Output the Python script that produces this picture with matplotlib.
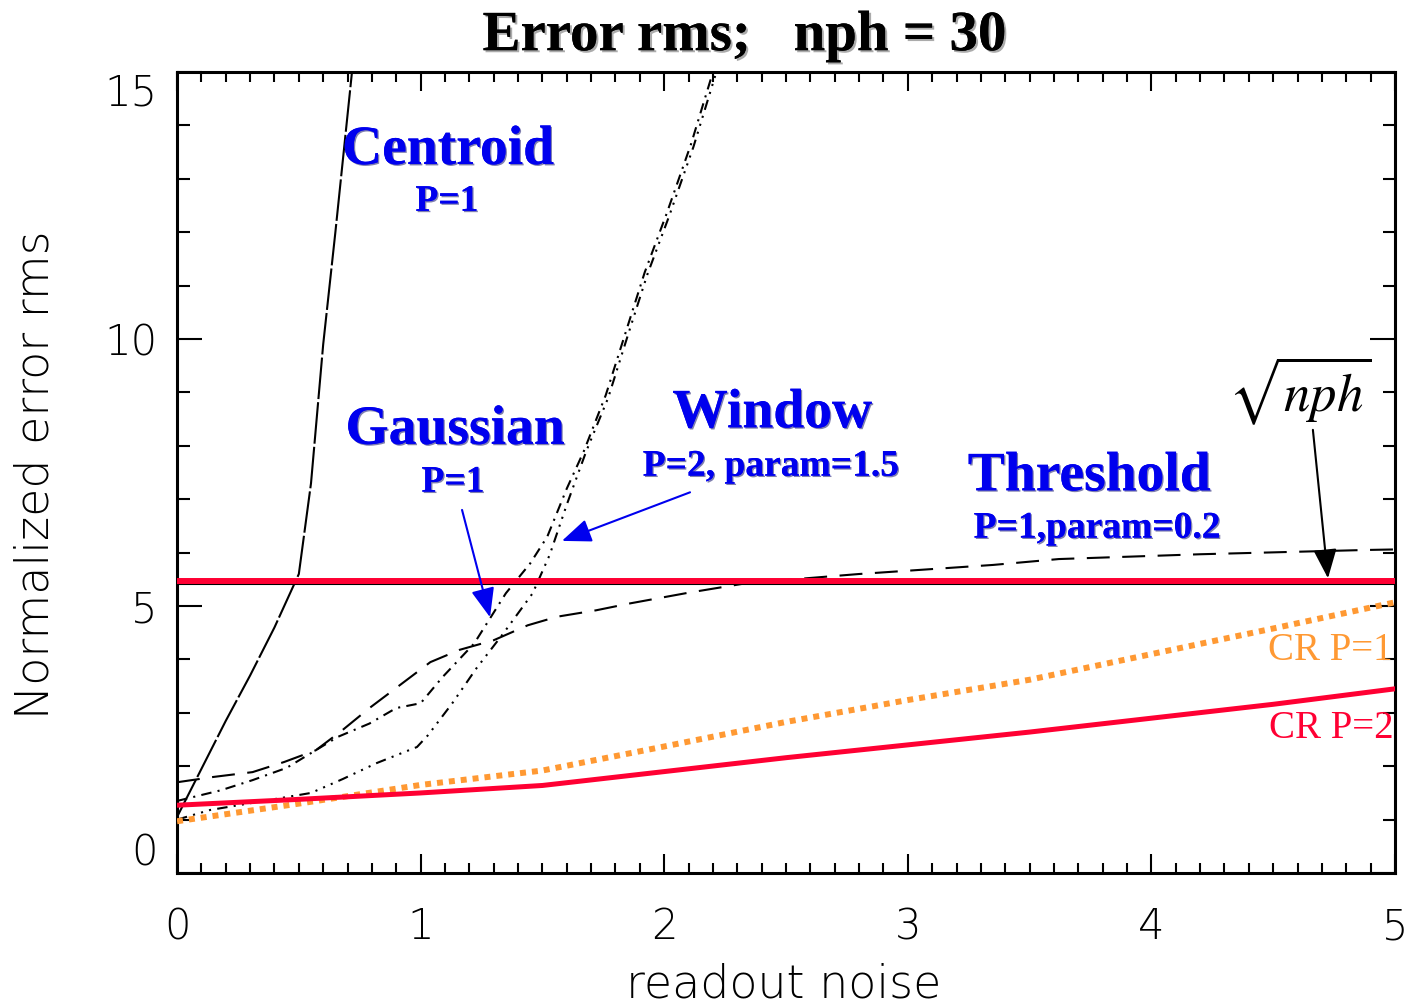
# Error rms vs readout noise, nph = 30

import os
import numpy as np
import matplotlib
matplotlib.use("Agg")
import matplotlib.pyplot as plt
import matplotlib.patheffects as pe
import matplotlib.transforms as mtrans
from matplotlib import font_manager as fm
from matplotlib.ticker import MultipleLocator

# data
nph = 30

centroid_x = [0.0, 0.1, 0.2, 0.3, 0.4, 0.5, 0.55, 0.6, 0.65, 0.7, 0.75]
centroid_y = [1.05, 1.95, 2.85, 3.7, 4.6, 5.6, 7.3, 9.9, 12.0, 14.2, 16.4]

gauss_x = [0.0, 0.18, 0.31, 0.45, 0.66, 0.79, 0.9, 1.0, 1.09, 1.22, 1.35, 1.45,
           1.52, 1.6, 1.67, 1.76, 1.84, 1.92, 2.01, 2.11, 2.2, 2.25]
gauss_y = [1.35, 1.55, 1.74, 1.97, 2.55, 2.8, 3.09, 3.18, 3.67, 4.3, 5.24, 5.8,
           6.3, 7.2, 7.9, 8.95, 10.1, 11.25, 12.35, 13.65, 15.0, 15.7]

window_x = [0.0, 0.135, 0.55, 0.68, 0.82, 0.985, 1.03, 1.13, 1.23, 1.34, 1.46,
            1.53, 1.6, 1.68, 1.77, 1.85, 1.93, 2.02, 2.12, 2.21, 2.26]
window_y = [1.0, 1.18, 1.5, 1.76, 2.06, 2.36, 2.58, 3.18, 3.84, 4.49, 5.24,
            5.96, 6.9, 7.9, 8.9, 10.06, 11.2, 12.3, 13.6, 14.94, 15.6]

thresh_x = [0.0, 0.15, 0.31, 0.44, 0.57, 0.68, 0.79, 0.915, 1.04, 1.16, 1.3,
            1.44, 1.56, 1.72, 1.86, 2.1, 2.34, 2.8, 3.35, 3.62, 4.2, 4.88, 5.0]
thresh_y = [1.7, 1.8, 1.89, 2.08, 2.3, 2.68, 3.09, 3.52, 3.95, 4.18, 4.36,
            4.64, 4.8, 4.92, 5.05, 5.25, 5.43, 5.6, 5.77, 5.88, 5.97, 6.05, 6.06]

cr_x = [0.0, 0.5, 1.0, 1.5, 2.0, 2.5, 3.0, 3.5, 4.0, 4.5, 5.0]
cr1_y = [0.97, 1.3, 1.65, 1.92, 2.37, 2.83, 3.24, 3.62, 4.1, 4.58, 5.07]
cr2_y = [1.27, 1.38, 1.5, 1.64, 1.9, 2.16, 2.4, 2.64, 2.9, 3.16, 3.45]

x_ticks = [0, 1, 2, 3, 4, 5]
y_ticks = [0, 5, 10, 15]

# colours
BLUE = "#0000ee"
RED = "#ff0033"
ORANGE = "#ff9933"

# thin sans font for the axis text (like the IDL vector font)
light_font = None
for want in ["DejaVuSans-ExtraLight", "Lato-Light", "Roboto-Light", "OpenSans-Light"]:
    for f in fm.fontManager.ttflist:
        if os.path.basename(f.fname).startswith(want):
            light_font = f.fname
            break
    if light_font:
        break
if light_font:
    axis_font = fm.FontProperties(fname=light_font, size=30)
else:
    axis_font = fm.FontProperties(family="DejaVu Sans", weight="light", size=30)

serif = "Liberation Serif"
blue_shadow = [pe.withSimplePatchShadow(offset=(1, -1), shadow_rgbFace="#000060", alpha=0.5), pe.Normal()]
grey_shadow = [pe.withSimplePatchShadow(offset=(1.5, -1.5), shadow_rgbFace="#888888", alpha=0.7), pe.Normal()]
plt.rcParams["mathtext.fontset"] = "stix"

fig = plt.figure(figsize=(14.22, 10.05), dpi=100)
ax = fig.add_axes([0.1245, 0.1313, 0.8565, 0.797])

# curves
ax.plot(centroid_x, centroid_y, color="black", lw=1.5, dashes=(20, 1.5))
ax.plot(gauss_x, gauss_y, color="black", lw=1.5, dashes=(5, 3, 1, 3))
ax.plot(window_x, window_y, color="black", lw=1.5, dashes=(5, 3, 1, 3, 1, 3, 1, 3))
ax.plot(thresh_x, thresh_y, color="black", lw=1.5, dashes=(11, 6))

# sqrt(nph) level: black IDL line with the red one drawn over it
down = mtrans.offset_copy(ax.transData, fig=fig, y=-3, units="dots")
ax.plot([0, 5], [np.sqrt(nph)] * 2, color="black", lw=1.5, transform=down)
ax.axhline(np.sqrt(nph), color=RED, lw=4.3, zorder=4)

# Cramer-Rao bounds
ax.plot(cr_x, cr1_y, color=ORANGE, lw=4.3, linestyle=(0, (1, 1)), zorder=3)
ax.plot(cr_x, cr2_y, color=RED, lw=3.6, zorder=3)

ax.set_xlim(0, 5)
ax.set_ylim(0, 15)

# ticks on all four sides, pointing in
ax.set_xticks(x_ticks)
ax.set_yticks(y_ticks)
ax.xaxis.set_minor_locator(MultipleLocator(0.1))
ax.yaxis.set_minor_locator(MultipleLocator(1))
ax.tick_params(which="both", direction="in", top=True, right=True, width=1.5)
ax.tick_params(axis="x", which="major", length=14, pad=24)
ax.tick_params(axis="x", which="minor", length=7)
ax.tick_params(axis="y", which="major", length=18, pad=14)
ax.tick_params(axis="y", which="minor", length=9)
for s in ax.spines.values():
    s.set_linewidth(2.2)

for lab in ax.get_xticklabels() + ax.get_yticklabels():
    lab.set_fontproperties(axis_font)
yt = ax.yaxis.get_major_ticks()
yt[0].label1.set_va("bottom")
yt[-1].label1.set_va("top")

ax.set_xlabel("readout noise", fontproperties=axis_font, fontsize=33)
ax.set_ylabel("Normalized error rms", fontproperties=axis_font, fontsize=33)
ax.xaxis.set_label_coords(0.498, -0.112)
ax.yaxis.set_label_coords(-0.098, 0.497)

fig.text(0.5236, 0.964, "Error rms;   nph = 30", family=serif, weight="bold",
         fontsize=41, ha="center", va="center", path_effects=grey_shadow)

# labels for the curves
def label(x, y, s, size, color=BLUE, weight="bold", fx=blue_shadow):
    ax.text(x, y, s, family=serif, weight=weight, fontsize=size, color=color,
            ha="center", va="center", path_effects=fx, zorder=6)

label(1.112, 13.54, "Centroid", 40)
label(1.108, 12.58, "P=1", 27)
label(1.141, 8.30, "Gaussian", 40)
label(1.133, 7.32, "P=1", 27)
label(2.443, 8.61, "Window", 40)
label(2.438, 7.62, "P=2, param=1.5", 27)
label(3.744, 7.43, "Threshold", 40)
label(3.777, 6.46, "P=1,param=0.2", 27)
label(4.733, 4.16, "CR P=1", 28, color=ORANGE, weight="normal", fx=None)
label(4.737, 2.70, "CR P=2", 28, color=RED, weight="normal", fx=None)
ax.text(4.61, 9.04, r"$\sqrt{nph}$", fontsize=38, color="black", ha="center", va="center")

# arrows
arrow = dict(arrowstyle="-|>,head_length=1.0,head_width=0.4", mutation_scale=18,
             lw=1.5, shrinkA=0, shrinkB=0)
ax.annotate("", xy=(1.285, 4.79), xytext=(1.17, 6.80), arrowprops=dict(arrow, color=BLUE), zorder=6)
ax.annotate("", xy=(1.58, 6.22), xytext=(2.106, 7.13), arrowprops=dict(arrow, color=BLUE), zorder=6)
ax.annotate("", xy=(4.725, 5.52), xytext=(4.663, 8.30), arrowprops=dict(arrow, color="black"), zorder=6)

fig.savefig("out.png", dpi=100)
